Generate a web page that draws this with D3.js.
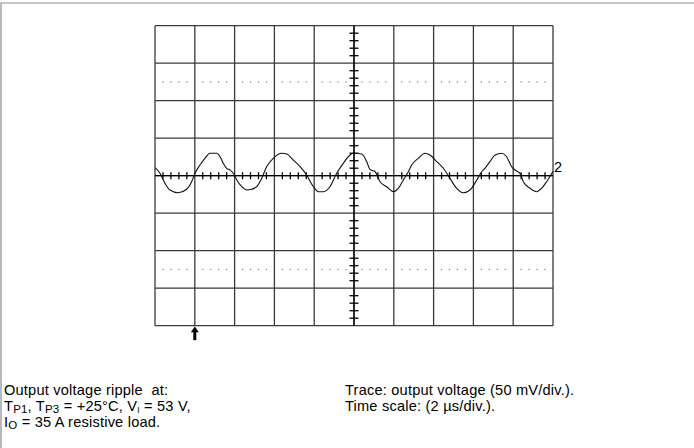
<!DOCTYPE html>
<meta charset="utf-8">
<style>
body { margin: 0; background: #fff; }
svg { display: block; font-family: "Liberation Sans", Arial, Helvetica, sans-serif; }
.grid line { stroke: #3a3a3a; stroke-width: 1.3; }
.caption { font-size: 14.6px; letter-spacing: 0.2px; fill: #000; }
</style>
<svg width="694" height="448"></svg>
<script src="https://d3js.org/d3.v7.min.js"></script>
<script>

// trace: time in µs, output ripple in mV
var traceTime = [0, 0.25, 0.5, 0.75, 1.17, 1.59, 1.84, 2.01, 2.26, 2.51, 2.76, 3.1, 3.27, 3.43, 3.6, 3.77, 3.94,
    4.11, 4.36, 4.61, 4.86, 5.11, 5.36, 5.61, 5.94, 6.37, 6.62, 6.95, 7.29, 7.62, 7.96, 8.21, 8.46, 8.79,
    9.13, 9.46, 9.8, 9.96, 10.39, 10.64, 10.8, 11.06, 11.31, 11.64, 11.97, 12.23, 12.48, 12.73, 12.9,
    13.23, 13.57, 13.82, 14.16, 14.49, 14.82, 15.16, 15.49, 15.83, 16.17, 16.42, 16.58, 16.83, 17.09,
    17.42, 17.67, 17.92, 18.09, 18.34, 18.51, 18.84, 19.18, 19.43, 19.68, 20];
var traceMv = [10.7, 3.2, -10.1, -19.1, -22.7, -18.1, -8, 3.2, 14.3, 23.2, 29.9, 29.9, 25.3, 16.5, 9.9, 7.6, 3.2,
    -5.7, -14.7, -19.1, -18.1, -14.7, -3.5, 12, 23.2, 29.9, 28.9, 20.9, 12, 0.9, -14.7, -21.3, -21.3, -14.7,
    3.2, 16.5, 27.6, 29.9, 28.9, 18.7, 8.5, 5.3, -8, -14.7, -21.3, -16.8, -5.7, 5.3, 14.3,
    23.2, 29.9, 27.6, 18.7, 9.9, -3.5, -16.8, -22.7, -19.1, -5.7, 5.3, 9.9, 18.7, 27.6,
    29.9, 25.3, 12, 7.6, 3.2, -8, -16.8, -21.3, -16.8, -8, 5.6];

// graticule: 10 x 2 µs, 8 x 50 mV
var timeDivs = [0, 2, 4, 6, 8, 10, 12, 14, 16, 18, 20];
var voltDivs = [-200, -150, -100, -50, 0, 50, 100, 150, 200];
var dottedRows = [125, -125];
var triggerTime = 2;
var channelLabel = "2";

var svg = d3.select("svg");

var x = d3.scaleLinear().domain([0, 20]).range([155, 553]);
var y = d3.scaleLinear().domain([-200, 200]).range([325.7, 25.7]);

// page frame
svg.append("path")
    .attr("d", "M1,448V3H694")
    .attr("fill", "none")
    .attr("stroke", "#8c8c8c")
    .attr("stroke-width", 1.2);

var grid = svg.append("g").attr("class", "grid");

grid.selectAll(".v").data(timeDivs).enter().append("line")
    .attr("x1", function(d) { return x(d); })
    .attr("x2", function(d) { return x(d); })
    .attr("y1", y(200)).attr("y2", y(-200));

grid.selectAll(".h").data(voltDivs).enter().append("line")
    .attr("y1", function(d) { return y(d); })
    .attr("y2", function(d) { return y(d); })
    .attr("x1", x(0)).attr("x2", x(20));

// minor positions, 5 per division
var minorT = d3.range(0, 20.001, 0.4).filter(function(t) { return Math.abs(t / 2 - Math.round(t / 2)) > 0.01; });
var minorV = d3.range(-200, 200.001, 10).filter(function(v) { return v % 50 !== 0; });

// dotted rows
dottedRows.forEach(function(row) {
    svg.append("g").selectAll("rect").data(minorT).enter().append("rect")
        .attr("x", function(d) { return x(d) - 0.6; })
        .attr("y", y(row) - 0.6)
        .attr("width", 1.2).attr("height", 1.2)
        .attr("fill", "#777");
});

// center axes with tick marks
var axes = svg.append("g").attr("stroke", "#000").attr("stroke-width", 1.3);
axes.append("line").attr("x1", x(10)).attr("x2", x(10)).attr("y1", y(200)).attr("y2", y(-200));
axes.append("line").attr("x1", x(0)).attr("x2", x(20)).attr("y1", y(0)).attr("y2", y(0));
axes.selectAll(".tv").data(minorV).enter().append("line")
    .attr("x1", x(10) - 4.5).attr("x2", x(10) + 4.5)
    .attr("y1", function(d) { return y(d); })
    .attr("y2", function(d) { return y(d); });
axes.selectAll(".th").data(minorT).enter().append("line")
    .attr("y1", y(0) - 3.5).attr("y2", y(0) + 3.5)
    .attr("x1", function(d) { return x(d); })
    .attr("x2", function(d) { return x(d); });

// trace
var line = d3.line()
    .x(function(d, i) { return x(traceTime[i]); })
    .y(function(d) { return y(d); })
    .curve(d3.curveMonotoneX);

svg.append("path")
    .datum(traceMv)
    .attr("d", line)
    .attr("fill", "none")
    .attr("stroke", "#111")
    .attr("stroke-width", 1.1);

// channel marker
svg.append("text")
    .attr("x", x(20) + 1)
    .attr("y", y(0) - 3.5)
    .attr("font-size", "14.5px")
    .text(channelLabel);

// trigger arrow
var tx = x(triggerTime);
svg.append("line")
    .attr("x1", tx).attr("x2", tx)
    .attr("y1", y(-200) + 6).attr("y2", y(-200) + 14.5)
    .attr("stroke", "#000").attr("stroke-width", 3);
svg.append("path")
    .attr("d", "M" + (tx - 4) + "," + (y(-200) + 6.5) + "L" + tx + "," + (y(-200) + 0.8) + "L" + (tx + 4) + "," + (y(-200) + 6.5) + "Z")
    .attr("fill", "#000");

// captions
svg.append("text").attr("class", "caption").attr("x", 4).attr("y", 395)
    .text("Output voltage ripple\u00a0 at:");

var l2 = svg.append("text").attr("class", "caption").attr("x", 4).attr("y", 411);
l2.append("tspan").text("T");
l2.append("tspan").attr("font-size", "11.5px").attr("dy", 2).text("P1");
l2.append("tspan").attr("dy", -2).text(", T");
l2.append("tspan").attr("font-size", "11.5px").attr("dy", 2).text("P3");
l2.append("tspan").attr("dy", -2).text(" = +25°C, V");
l2.append("tspan").attr("font-size", "8.5px").attr("dy", 2).text("I");
l2.append("tspan").attr("dy", -2).text(" = 53 V,");

var l3 = svg.append("text").attr("class", "caption").attr("x", 4).attr("y", 427);
l3.append("tspan").text("I");
l3.append("tspan").attr("font-size", "11.5px").attr("dy", 2).text("O");
l3.append("tspan").attr("dy", -2).text(" = 35 A resistive load.");

svg.append("text").attr("class", "caption").attr("x", 345).attr("y", 395)
    .text("Trace: output voltage (50 mV/div.).");
svg.append("text").attr("class", "caption").attr("x", 345).attr("y", 411)
    .text("Time scale: (2 µs/div.).");

</script>
